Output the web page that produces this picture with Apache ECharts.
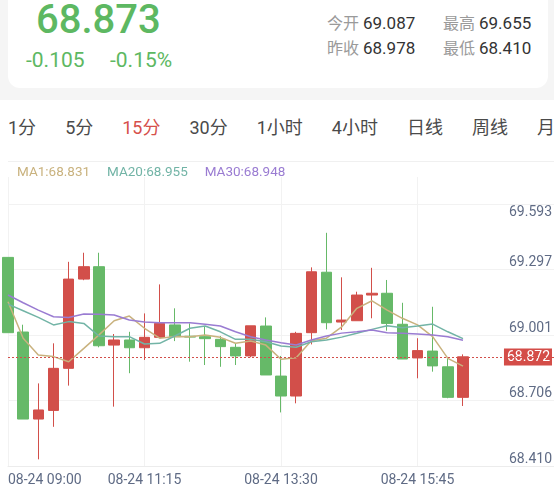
<!DOCTYPE html>
<html>
<head>
<meta charset="utf-8">
<script src="https://cdn.jsdelivr.net/npm/echarts@6/dist/echarts.min.js"></script>
<style>
  html, body {
    margin: 0;
    padding: 0;
    width: 554px;
    height: 492px;
    overflow: hidden;
    background: #fff;
    font-family: Roboto, "Noto Sans CJK SC", sans-serif;
  }
  .top-bg {
    position: absolute;
    left: 0;
    top: 0;
    width: 554px;
    height: 100px;
    background: #f5f5f5;
  }
  .card {
    position: absolute;
    left: 8px;
    right: 6px;
    top: -14px;
    height: 102px;
    background: #fff;
    border-radius: 12px;
  }
  .price {
    position: absolute;
    left: 36px;
    top: 0;
    font-size: 40px;
    line-height: 40px;
    font-weight: 500;
    color: #5db862;
  }
  .chg {
    position: absolute;
    top: 50px;
    font-size: 21px;
    line-height: 21px;
    color: #5db862;
  }
  .info {
    position: absolute;
    font-size: 16px;
    line-height: 20px;
    color: #9a9a9a;
    white-space: nowrap;
  }
  .info b {
    font-weight: 400;
    font-size: 17px;
    color: #333;
  }
  .tabs {
    position: absolute;
    left: 8px;
    top: 117px;
    display: flex;
    gap: 29px;
    font-size: 18px;
    line-height: 22px;
    color: #4a4a4a;
    white-space: nowrap;
  }
  .tabs .on {
    color: #d6504b;
  }
  .sep {
    position: absolute;
    left: 8px;
    top: 161px;
    width: 546px;
    height: 1px;
    background: #f0f0f0;
  }
  #chart {
    position: absolute;
    left: 0;
    top: 150px;
    width: 554px;
    height: 342px;
  }
</style>
</head>
<body>
<div class="top-bg"></div>
<div class="card"></div>
<div class="price">68.873</div>
<div class="chg" style="left:26px">-0.105</div>
<div class="chg" style="left:110px">-0.15%</div>
<div class="info" style="left:327px;top:13px">今开 <b>69.087</b></div>
<div class="info" style="left:443px;top:13px">最高 <b>69.655</b></div>
<div class="info" style="left:327px;top:38px">昨收 <b>68.978</b></div>
<div class="info" style="left:443px;top:38px">最低 <b>68.410</b></div>
<div class="tabs">
  <span>1分</span><span>5分</span><span class="on">15分</span><span>30分</span><span>1小时</span><span>4小时</span><span>日线</span><span>周线</span><span>月</span>
</div>
<div class="sep"></div>
<div id="chart"></div>

<script>
// 15 分钟 K 线，08-24
const times = [
  '09:00', '09:15', '09:30', '09:45', '10:00', '10:15', '10:30', '10:45', '11:00',
  '11:15', '11:30', '11:45', '12:00', '12:15', '12:30', '12:45', '13:00', '13:15',
  '13:30', '13:45', '14:00', '14:15', '14:30', '14:45', '15:00', '15:15', '15:30',
  '15:45', '16:00', '16:15', '16:30', '16:45', '17:00', '17:15', '17:30', '17:45', '18:00'
]
const categories = times.map((t) => '08-24 ' + t)

// [open, close, low, high]
const candles = [
  [69.322, 68.982, 68.982, 69.322],
  [68.985, 68.592, 68.592, 69.018],
  [68.592, 68.633, 68.410, 68.753],
  [68.631, 68.821, 68.557, 68.934],
  [68.821, 69.224, 68.743, 69.302],
  [69.224, 69.280, 69.219, 69.343],
  [69.280, 68.923, 68.916, 69.343],
  [68.926, 68.949, 68.648, 68.976],
  [68.949, 68.914, 68.799, 68.986],
  [68.914, 68.961, 68.859, 69.069],
  [68.961, 69.024, 68.961, 69.200],
  [69.017, 68.964, 68.944, 69.092],
  [68.966, 68.962, 68.851, 69.024],
  [68.964, 68.955, 68.836, 69.009],
  [68.952, 68.919, 68.828, 68.967],
  [68.916, 68.877, 68.836, 68.934],
  [68.877, 69.013, 68.871, 69.013],
  [69.012, 68.791, 68.791, 69.051],
  [68.786, 68.696, 68.622, 68.877],
  [68.696, 68.979, 68.663, 68.986],
  [68.982, 69.257, 68.929, 69.277],
  [69.255, 69.027, 68.997, 69.433],
  [69.030, 69.039, 68.994, 69.232],
  [69.036, 69.152, 69.036, 69.167],
  [69.152, 69.160, 69.047, 69.275],
  [69.160, 69.024, 68.991, 69.220],
  [69.020, 68.863, 68.863, 69.117],
  [68.868, 68.901, 68.776, 68.957],
  [68.899, 68.832, 68.806, 69.099],
  [68.828, 68.690, 68.686, 68.866],
  [68.690, 68.873, 68.651, 68.884]
]

const ma1 = [
  69.122, 68.957, 68.881, 68.874, 68.851, 68.911, 68.972, 69.036, 69.057, 69.002,
  68.957, 68.965, 68.964, 68.972, 68.961, 68.934, 68.944, 68.926, 68.862, 68.869,
  68.946, 68.957, 69.008, 69.092, 69.126, 69.084, 69.047, 69.017, 68.964, 68.866, 68.831
]
const ma20 = [
  69.111, 69.081, 69.051, 69.017, 69.032, 69.024, 68.967, 68.964, 68.964, 68.931,
  68.934, 68.967, 69.002, 69.012, 68.986, 68.952, 68.952, 68.941, 68.922, 68.916,
  68.941, 68.949, 68.962, 68.979, 68.997, 69.013, 69.004, 69.012, 69.021, 68.986, 68.955
]
const ma30 = [
  69.152, 69.117, 69.084, 69.054, 69.051, 69.066, 69.065, 69.062, 69.039, 69.030,
  69.027, 69.027, 69.027, 69.020, 69.012, 68.986, 68.964, 68.949, 68.937, 68.926,
  68.949, 68.967, 68.980, 68.986, 68.994, 68.982, 68.979, 68.976, 68.972, 68.964, 68.948
]

const yTickLabels = [68.410, 68.706, 69.001, 69.297, 69.593]
const lastPrice = 68.872
const yMin = 68.380
const yMax = 69.685
const yStep = 0.2957

const upColor = '#d24f4a'
const downColor = '#66b968'
const axisTextColor = '#5f6b85'
const gridColor = '#f2f2f2'
const maColors = { MA1: '#c9b27e', MA20: '#72b4a6', MA30: '#9a7cd2' }
const maData = { MA1: ma1, MA20: ma20, MA30: ma30 }

const chart = echarts.init(document.getElementById('chart'))

const option = {
  animation: false,
  backgroundColor: 'transparent',
  textStyle: { fontFamily: 'Roboto' },
  grid: {
    left: 8,
    right: 0,
    top: 27,
    bottom: 26,
    containLabel: false,
    outerBoundsMode: 'none'
  },
  legend: {
    left: 7,
    top: 11,
    icon: 'rect',
    itemWidth: 0,
    itemHeight: 14,
    itemGap: 12,
    selectedMode: false,
    textStyle: { fontSize: 13.5, fontFamily: 'Roboto' },
    data: Object.keys(maData).map((name) => ({
      name,
      textStyle: { color: maColors[name] }
    })),
    formatter: (name) => name + ':' + maData[name][maData[name].length - 1].toFixed(3)
  },
  xAxis: {
    type: 'category',
    data: categories,
    boundaryGap: false,
    axisLine: { lineStyle: { color: '#ececec' } },
    axisTick: { show: false },
    axisLabel: {
      interval: 8,
      color: axisTextColor,
      fontSize: 14,
      margin: 7,
      alignMinLabel: 'left',
      showMaxLabel: false
    },
    splitLine: {
      show: true,
      interval: 8,
      lineStyle: { color: gridColor }
    }
  },
  yAxis: {
    type: 'value',
    position: 'right',
    min: yMin,
    max: yMax,
    interval: yStep,
    axisLine: { show: false },
    axisTick: { show: false },
    splitLine: {
      show: true,
      showMaxLine: false,
      lineStyle: { color: gridColor }
    },
    axisLabel: {
      inside: true,
      margin: 2,
      color: axisTextColor,
      fontSize: 14,
      customValues: yTickLabels.concat([lastPrice]),
      formatter: (v) => {
        const s = v.toFixed(3)
        if (v === lastPrice) return '{cur|' + s + '}'
        if (v === yTickLabels[yTickLabels.length - 1]) return '{top|' + s + '}'
        return s
      },
      rich: {
        cur: {
          backgroundColor: '#d44d48',
          color: '#fff',
          fontSize: 14,
          padding: [2, 2, 1, 3]
        },
        top: {
          color: axisTextColor,
          fontSize: 14,
          padding: [30, 0, 0, 0]
        }
      }
    }
  },
  series: [
    {
      name: 'K',
      type: 'candlestick',
      data: candles,
      barWidth: 11,
      clip: true,
      itemStyle: {
        color: upColor,
        color0: downColor,
        borderColor: upColor,
        borderColor0: downColor,
        borderWidth: 1
      },
      markLine: {
        silent: true,
        symbol: ['none', 'none'],
        label: { show: false },
        lineStyle: { color: upColor, type: [2, 2], width: 1 },
        data: [{ yAxis: lastPrice }]
      }
    },
    ...Object.keys(maData).map((name) => ({
      name,
      type: 'line',
      data: maData[name],
      symbol: 'none',
      lineStyle: { color: maColors[name], width: 1.5 },
      itemStyle: { color: maColors[name] },
      z: 3
    }))
  ]
}

chart.setOption(option)
</script>
</body>
</html>
